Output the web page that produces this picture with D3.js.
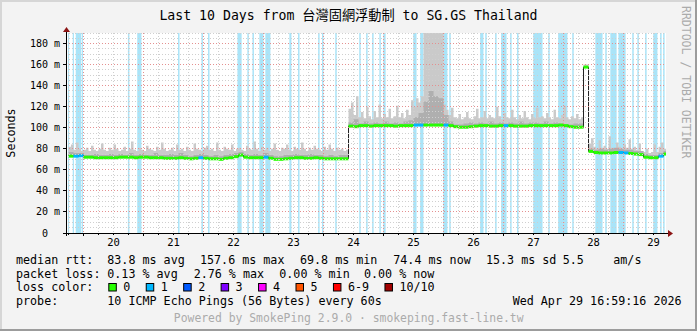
<!DOCTYPE html>
<html>
<head>
<meta charset="utf-8">
<script src="https://cdn.jsdelivr.net/npm/d3@7"></script>
<style>
body { margin: 0; background: #f3f3f3; }
svg { display: block; }
text { font-family: "DejaVu Sans Mono", "Noto Sans CJK TC", monospace; }
</style>
</head>
<body>
<script>
/*
 * SmokePing style graph: 10 days of ping rtt with smoke and loss colors.
 */

//Width and height
var width = 697;
var height = 331;

// graph end = time the graph was made, start = 10 days earlier (in "day of April")
var endDay = 29 + (16 + 59 / 60 + 16 / 3600) / 24;
var startDay = endDay - 10;

// median rtt (ms), one value every 2 hours from Apr 19 18:00
var medianStart = 19.75;
var medianStep = 1 / 12;
var median = [
	73, 73, 73.5, 72, 72, 71.5, 71.5, 71.5, 71.5, 71.5, 72, 72,
	72, 71.5, 72, 72, 71.5, 71.5, 71.5, 71, 71, 71, 71.5, 71,
	70.5, 71, 71.5, 71, 70.5, 70.5, 70, 71, 71.5, 72.5, 74, 72,
	71.5, 71.5, 71.5, 72, 71, 70, 70, 70.5, 71, 71.5, 71.5, 71,
	71, 71.5, 71, 70.5, 70.5, 70.5, 70.5, 70.5, 101.5, 101, 102, 102,
	101.5, 102, 102, 102, 102, 101.5, 102, 102, 102, 102.5, 102.5, 102.5,
	102.5, 102.5, 102.5, 102.5, 102, 101, 100.5, 100.5, 101, 101.5, 102, 102,
	101.5, 101.5, 102, 102, 102, 101.5, 101.5, 101.5, 102, 102, 102, 102,
	102, 102, 102.5, 102, 101, 100.5, 100.5, 157.6, 77.5, 76.5, 76, 76,
	76, 76.5, 76.5, 76, 75.5, 75, 74.5, 72, 71.5, 71.5, 73, 75
];

// lost pings (of 10) for each median value
var lossCount = [
	0, 1, 1, 0, 0, 0, 0, 0, 0, 0, 0, 0,
	0, 0, 0, 0, 0, 0, 0, 0, 0, 0, 0, 0,
	0, 0, 1, 0, 0, 0, 0, 0, 0, 0, 0, 0,
	0, 0, 0, 1, 0, 0, 0, 0, 0, 0, 0, 0,
	0, 0, 0, 0, 0, 0, 0, 0, 0, 0, 0, 0,
	0, 0, 0, 0, 0, 0, 0, 0, 0, 1, 1, 0,
	0, 0, 0, 1, 0, 0, 0, 0, 0, 0, 0, 0,
	0, 0, 0, 1, 0, 0, 0, 0, 0, 0, 0, 0,
	0, 0, 0, 0, 0, 0, 0, 0, 0, 0, 0, 0,
	0, 0, 1, 1, 0, 0, 0, 0, 0, 0, 1, 0
];

// inner (dense) smoke top, same 2 hour steps
var smokeMid = [
	77, 76, 76, 74, 74, 75, 74, 74, 75, 74, 75, 74,
	76, 74, 75, 74, 74, 76, 74, 74, 75, 74, 76, 74,
	73, 74, 75, 74, 73, 74, 73, 74, 75, 76, 77, 75,
	74, 75, 74, 76, 74, 73, 73, 74, 74, 75, 74, 74,
	75, 74, 74, 73, 74, 73, 74, 74, 105, 108, 104, 106,
	104, 105, 104, 106, 104, 105, 104, 106, 107, 110, 114, 125,
	135, 130, 128, 112, 106, 103, 103, 104, 105, 104, 105, 104,
	106, 104, 105, 104, 105, 104, 106, 104, 105, 105, 104, 106,
	104, 105, 104, 103, 103, 104, 104, 158, 80, 79, 80, 79,
	80, 81, 80, 79, 79, 78, 78, 75, 74, 74, 76, 78
];

// outer smoke top (highest ping), one value every hour
var smokeStep = 1 / 24;
var smokeHi = [
	82, 84, 79, 86, 80, 78, 79, 81, 78, 83, 79, 78, 80, 85, 79, 78, 81, 79, 84, 80, 78, 79, 82, 78,
	80, 87, 79, 78, 81, 79, 78, 83, 80, 79, 78, 82, 79, 86, 80, 78, 79, 81, 78, 84, 79, 80, 78, 82,
	79, 78, 85, 80, 79, 78, 81, 83, 79, 80, 78, 86, 79, 78, 82, 80, 79, 84, 78, 80, 81, 79, 78, 83,
	80, 79, 87, 80, 78, 82, 79, 81, 78, 80, 85, 79, 78, 81, 80, 84, 79, 78, 82, 80, 79, 86, 80, 78,
	81, 79, 83, 80, 79, 78, 82, 79, 84, 80, 78, 81, 79, 80, 78, 79, 118, 124, 112, 130, 110, 115, 109, 120,
	111, 108, 116, 110, 122, 109, 113, 110, 118, 109, 111, 121, 110, 114, 109, 117, 112, 126, 120, 128, 124, 130, 195, 195,
	195, 195, 195, 195, 195, 195, 122, 117, 112, 119, 110, 109, 113, 108, 110, 115, 109, 108, 111, 118, 109, 110, 116, 109,
	112, 110, 109, 120, 111, 108, 114, 110, 109, 117, 110, 108, 112, 109, 116, 110, 108, 113, 109, 119, 110, 111, 109, 114,
	110, 108, 117, 110, 109, 112, 121, 110, 108, 111, 109, 113, 108, 110, 160, 160, 85, 90, 82, 80, 88, 81, 83, 80,
	92, 81, 80, 86, 82, 80, 84, 81, 89, 80, 82, 79, 85, 78, 77, 80, 76, 77, 84, 77, 82, 86, 80, 81
];

// times with packet loss (background stripes), [from, to] in day of April
var lossStripes = [
	[19.74, 19.76], [19.82, 19.84], [19.87, 19.96], [19.97, 19.99],
	[20.74, 20.765], [20.895, 20.965], [21.575, 21.6], [21.965, 21.99],
	[22.075, 22.1], [22.565, 22.635], [22.73, 22.755], [22.815, 22.84],
	[22.93, 23.0], [23.03, 23.115], [23.43, 23.465], [23.575, 23.6],
	[23.91, 23.935], [23.975, 24.0], [24.195, 24.22], [24.595, 24.62],
	[24.71, 24.735], [24.81, 24.835], [24.93, 24.955], [24.995, 25.035],
	[25.495, 25.55], [25.61, 25.665], [25.995, 26.065], [26.095, 26.12],
	[26.61, 26.665], [26.695, 26.72], [26.86, 26.885], [26.96, 27.05],
	[27.11, 27.135], [27.225, 27.25], [27.495, 27.65], [27.745, 27.77],
	[27.91, 28.065], [28.145, 28.17], [28.53, 28.65], [28.695, 28.72],
	[28.78, 28.885], [28.915, 29.035], [29.145, 29.17], [29.23, 29.255],
	[29.36, 29.385], [29.495, 29.565], [29.61, 29.635], [29.66, 29.685]
];

// axis ticks
var dayTicks = [20, 21, 22, 23, 24, 25, 26, 27, 28, 29];
var rttTicks = [0, 20, 40, 60, 80, 100, 120, 140, 160, 180];

// loss legend
var lossLabels = ["0", "1", "2", "3", "4", "5", "6-9", "10/10"];
var lossColors = ["#26ff00", "#00b8ff", "#0059ff", "#7e00ff", "#ff00ff", "#ff5500", "#ff0000", "#a10000"];

// legend texts, [text, x]
var legendRtt = [["median rtt:", 16], ["83.8 ms avg", 107.3], ["157.6 ms max", 200], ["69.8 ms min", 300],
	["74.4 ms now", 393.3], ["15.3 ms sd", 486], ["5.5", 562.7], ["am/s", 613.3]];
var legendLoss = [["packet loss:", 16], ["0.13 % avg", 107.3], ["2.76 % max", 193.7],
	["0.00 % min", 279.3], ["0.00 % now", 364]];
var legendProbe = [["probe:", 16], ["10 ICMP Echo Pings (56 Bytes) every 60s", 107.3],
	["Wed Apr 29 16:59:16 2026", 512.7]];

var titleText = "Last 10 Days from 台灣固網浮動制 to SG.GS Thailand";

//Scales
var plotLeft = 66, plotRight = 666, plotTop = 33, plotBottom = 233;
var x = d3.scaleLinear().domain([startDay, endDay]).range([plotLeft, plotRight]);
var y = d3.scaleLinear().domain([0, 190]).range([plotBottom, plotTop]);

//Create SVG element
var svg = d3.select("body")
	.append("svg")
	.attr("width", width)
	.attr("height", height);

// background and shaded frame
svg.append("rect").attr("width", width).attr("height", height).attr("fill", "#f3f3f3");
svg.append("rect").attr("width", width).attr("height", 2).attr("fill", "#d6d6d6");
svg.append("rect").attr("width", 2).attr("height", height).attr("fill", "#d6d6d6");
svg.append("rect").attr("x", width - 2).attr("width", 2).attr("height", height).attr("fill", "#9c9c9c");
svg.append("rect").attr("y", height - 2).attr("width", width).attr("height", 2).attr("fill", "#9c9c9c");

// canvas
svg.append("rect")
	.attr("x", plotLeft).attr("y", plotTop)
	.attr("width", plotRight - plotLeft).attr("height", plotBottom - plotTop)
	.attr("fill", "#ffffff");

svg.append("clipPath").attr("id", "plot")
	.append("rect")
	.attr("x", plotLeft).attr("y", plotTop)
	.attr("width", plotRight - plotLeft).attr("height", plotBottom - plotTop);

var plot = svg.append("g").attr("clip-path", "url(#plot)");

// loss background stripes
plot.selectAll("rect.stripe")
	.data(lossStripes)
	.enter()
	.append("rect")
	.attr("class", "stripe")
	.attr("x", function(d){ return x(d[0]); })
	.attr("y", plotTop)
	.attr("width", function(d){ return Math.max(1, x(d[1]) - x(d[0])); })
	.attr("height", plotBottom - plotTop)
	.attr("fill", "#aae4f8");

// points
var medianPoints = median.map(function(v, i){
	return {t: medianStart + i * medianStep, v: v, mid: smokeMid[i], loss: lossCount[i]};
});
var smokePoints = smokeHi.map(function(v, j){
	return {t: medianStart + j * smokeStep, hi: v, lo: median[Math.floor(j / 2)]};
});
// extra point so the last step has a width
var lastM = medianPoints[medianPoints.length - 1];
medianPoints.push({t: lastM.t + medianStep, v: lastM.v, mid: lastM.mid, loss: lastM.loss, end: true});
var lastS = smokePoints[smokePoints.length - 1];
smokePoints.push({t: lastS.t + smokeStep, hi: lastS.hi, lo: lastS.lo});

// smoke
plot.append("path")
	.datum(smokePoints)
	.attr("fill", "#cacaca")
	.attr("d", d3.area().curve(d3.curveStepAfter)
		.x(function(d){ return x(d.t); })
		.y0(function(d){ return y(d.lo); })
		.y1(function(d){ return y(d.hi); }));

plot.append("path")
	.datum(medianPoints)
	.attr("fill", "#afafaf")
	.attr("d", d3.area().curve(d3.curveStepAfter)
		.x(function(d){ return x(d.t); })
		.y0(function(d){ return y(d.v); })
		.y1(function(d){ return y(d.mid); }));

// grid
var grid = svg.append("g").attr("shape-rendering", "crispEdges").attr("stroke-width", 1);

var minorRtt = d3.range(5, 191, 5).filter(function(v){ return v % 20 !== 0; });
grid.selectAll("line.hminor")
	.data(minorRtt).enter().append("line")
	.attr("x1", plotLeft).attr("x2", plotRight)
	.attr("y1", function(d){ return y(d); }).attr("y2", function(d){ return y(d); })
	.attr("stroke", "#cfcfcf").attr("stroke-dasharray", "1,2");

var minorDays = d3.range(20 - 0.25, endDay, 0.25).filter(function(d){ return d > startDay && d % 1 !== 0; });
grid.selectAll("line.vminor")
	.data(minorDays).enter().append("line")
	.attr("y1", plotTop).attr("y2", plotBottom)
	.attr("x1", function(d){ return x(d); }).attr("x2", function(d){ return x(d); })
	.attr("stroke", "#cfcfcf").attr("stroke-dasharray", "1,2");

grid.selectAll("line.hmajor")
	.data(rttTicks.slice(1)).enter().append("line")
	.attr("x1", plotLeft).attr("x2", plotRight)
	.attr("y1", function(d){ return y(d); }).attr("y2", function(d){ return y(d); })
	.attr("stroke", "#e49090").attr("stroke-dasharray", "1,2");

grid.selectAll("line.vmajor")
	.data(dayTicks).enter().append("line")
	.attr("y1", plotTop).attr("y2", plotBottom)
	.attr("x1", function(d){ return x(d); }).attr("x2", function(d){ return x(d); })
	.attr("stroke", "#e49090").attr("stroke-dasharray", "1,2");

// median line: thin dark step line, then loss colored segments
plot.append("path")
	.datum(medianPoints)
	.attr("fill", "none")
	.attr("stroke", "#202020")
	.attr("stroke-width", 1)
	.attr("d", d3.line().curve(d3.curveStepAfter)
		.x(function(d){ return x(d.t); })
		.y(function(d){ return y(d.v); }));

plot.selectAll("line.median")
	.data(medianPoints.filter(function(d){ return !d.end; }))
	.enter()
	.append("line")
	.attr("class", "median")
	.attr("x1", function(d){ return x(d.t); })
	.attr("x2", function(d){ return x(d.t + medianStep); })
	.attr("y1", function(d){ return y(d.v); })
	.attr("y2", function(d){ return y(d.v); })
	.attr("stroke", function(d){ return lossColors[d.loss]; })
	.attr("stroke-width", 3);

// axes
var axes = svg.append("g").attr("shape-rendering", "crispEdges");
axes.append("line").attr("x1", plotLeft).attr("x2", plotLeft)
	.attr("y1", plotBottom + 3).attr("y2", plotTop - 3).attr("stroke", "#000");
axes.append("line").attr("x1", plotLeft - 3).attr("x2", plotRight + 4)
	.attr("y1", plotBottom).attr("y2", plotBottom).attr("stroke", "#000");

axes.selectAll("line.xtick")
	.data(dayTicks).enter().append("line")
	.attr("x1", function(d){ return x(d); }).attr("x2", function(d){ return x(d); })
	.attr("y1", plotBottom).attr("y2", plotBottom + 3).attr("stroke", "#000");
axes.selectAll("line.xmtick")
	.data(minorDays).enter().append("line")
	.attr("x1", function(d){ return x(d); }).attr("x2", function(d){ return x(d); })
	.attr("y1", plotBottom).attr("y2", plotBottom + 2).attr("stroke", "#000");
axes.selectAll("line.ytick")
	.data(rttTicks).enter().append("line")
	.attr("x1", plotLeft - 3).attr("x2", plotLeft)
	.attr("y1", function(d){ return y(d); }).attr("y2", function(d){ return y(d); })
	.attr("stroke", "#000");

// arrows
svg.append("path")
	.attr("d", "M" + (plotLeft - 3) + "," + (plotTop - 1) + "L" + (plotLeft + 4) + "," + (plotTop - 1) +
		"L" + (plotLeft + 0.5) + "," + (plotTop - 6) + "Z")
	.attr("fill", "#8b1414");
svg.append("path")
	.attr("d", "M" + (plotRight + 2) + "," + (plotBottom - 3) + "L" + (plotRight + 2) + "," + (plotBottom + 4) +
		"L" + (plotRight + 7) + "," + (plotBottom + 0.5) + "Z")
	.attr("fill", "#8b1414");

// tick labels
svg.selectAll("text.day")
	.data(dayTicks).enter().append("text")
	.attr("x", function(d){ return x(d + 0.5); })
	.attr("y", 246)
	.attr("text-anchor", "middle")
	.attr("font-size", "10.5px")
	.attr("fill", "#000")
	.text(function(d){ return String(d); });

svg.selectAll("text.rtt")
	.data(rttTicks).enter().append("text")
	.attr("x", 60)
	.attr("y", function(d){ return y(d) + 3.5; })
	.attr("text-anchor", "end")
	.attr("font-size", "10px")
	.attr("fill", "#000")
	.style("white-space", "pre")
	.text(function(d){ return d === 0 ? "0  " : d + " m"; });

// titles
svg.append("text")
	.attr("x", 348.5).attr("y", 19.5)
	.attr("text-anchor", "middle")
	.attr("font-size", "13.2px")
	.attr("fill", "#000")
	.text(titleText);

svg.append("text")
	.attr("transform", "translate(15,133) rotate(-90)")
	.attr("text-anchor", "middle")
	.attr("font-size", "11.7px")
	.attr("fill", "#000")
	.text("Seconds");

svg.append("text")
	.attr("transform", "translate(682,6) rotate(90)")
	.attr("font-size", "11.5px")
	.attr("fill", "#ababab")
	.text("RRDTOOL / TOBI OETIKER");

// legend
function legendRow(items, yPos){
	'use strict';
	svg.selectAll(null)
		.data(items).enter().append("text")
		.attr("x", function(d){ return d[1]; })
		.attr("y", yPos)
		.attr("font-size", "11.7px")
		.attr("fill", "#000")
		.style("white-space", "pre")
		.text(function(d){ return d[0]; });
}
legendRow(legendRtt, 264);
legendRow(legendLoss, 277.5);
legendRow([["loss color:", 16]], 291.3);
legendRow(legendProbe, 305);

// loss color boxes
var boxX = 108.3, charW = 7.04;
lossLabels.forEach(function(label, k){
	'use strict';
	svg.append("rect")
		.attr("x", boxX + 0.5).attr("y", 283.5)
		.attr("width", 7.5).attr("height", 7.5)
		.attr("fill", lossColors[k])
		.attr("stroke", "#000").attr("stroke-width", 1);
	svg.append("text")
		.attr("x", boxX + 15).attr("y", 291.3)
		.attr("font-size", "11.7px")
		.attr("fill", "#000")
		.text(label);
	boxX = boxX + 15 + label.length * charW + 15.4;
});

svg.append("text")
	.attr("x", 348.7).attr("y", 321.7)
	.attr("text-anchor", "middle")
	.attr("font-size", "11.4px")
	.attr("fill", "#ababab")
	.text("Powered by SmokePing 2.9.0 · smokeping.fast-line.tw");
</script>
</body>
</html>
